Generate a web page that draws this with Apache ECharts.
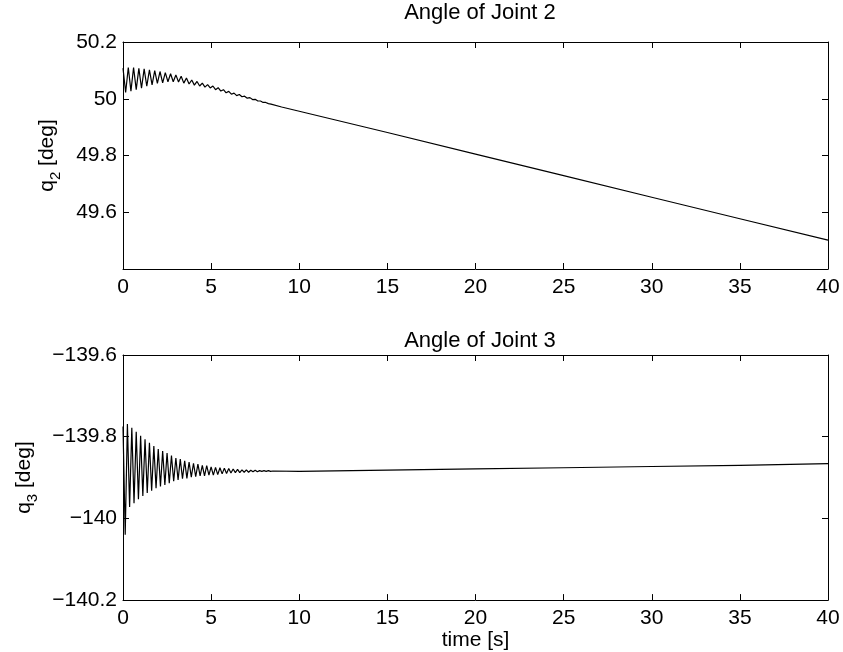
<!DOCTYPE html>
<html>
<head>
<meta charset="utf-8">
<script src="https://cdn.jsdelivr.net/npm/echarts@6/dist/echarts.min.js"></script>
<style>
html,body{margin:0;padding:0;background:#fff;}
#chart{width:843px;height:652px;}
</style>
</head>
<body>
<div id="chart"></div>
<script>
// ---- data ----
const titles = ['Angle of Joint 2', 'Angle of Joint 3'];
const xTicks = [0, 5, 10, 15, 20, 25, 30, 35, 40];
const yTicksJ2 = [49.4, 49.6, 49.8, 50, 50.2];
const yTicksJ3 = [-140.2, -140, -139.8, -139.6];

const timeJ2 = [0,0.15,0.3,0.45,0.6,0.75,0.9,1.05,1.2,1.35,1.5,1.65,1.8,1.95,2.1,2.25,2.4,2.55,2.7,2.85,
  3,3.15,3.3,3.45,3.6,3.75,3.9,4.05,4.2,4.35,4.5,4.65,4.8,4.95,5.1,5.25,5.4,5.55,5.7,5.85,
  6,6.15,6.3,6.45,6.6,6.75,6.9,7.05,7.2,7.35,7.5,7.65,7.8,7.95,8.1,8.25,8.4,
  9,10,15,20,25,30,35,40];
const q2 = [50.108,50.022,50.110,50.027,50.110,50.032,50.107,50.037,50.105,50.044,
  50.102,50.049,50.099,50.054,50.096,50.056,50.092,50.060,50.088,50.060,
  50.084,50.059,50.079,50.055,50.073,50.052,50.066,50.048,50.061,50.045,
  50.055,50.041,50.050,50.038,50.045,50.032,50.039,50.027,50.032,50.021,
  50.026,50.016,50.020,50.011,50.015,50.007,50.009,50.002,50.004,49.997,
  49.998,49.992,49.992,49.987,49.987,49.983,49.981,
  49.971,49.956,49.881,49.805,49.729,49.653,49.577,49.502];

const timeJ3 = [0,0.125,0.25,0.375,0.5,0.625,0.75,0.875,1,1.125,1.25,1.375,1.5,1.625,1.75,1.875,
  2,2.125,2.25,2.375,2.5,2.625,2.75,2.875,3,3.125,3.25,3.375,3.5,3.625,3.75,3.875,
  4,4.125,4.25,4.375,4.5,4.625,4.75,4.875,5,5.125,5.25,5.375,5.5,5.625,5.75,5.875,
  6,6.125,6.25,6.375,6.5,6.625,6.75,6.875,7,7.125,7.25,7.375,7.5,7.625,7.75,7.875,
  8,8.125,8.25,8.375,8.5,
  10,15,20,25,30,35,40];
const q3 = [-139.775,-140.04,-139.769,-139.972,-139.778,-139.963,-139.788,-139.953,-139.798,-139.945,
  -139.806,-139.938,-139.815,-139.932,-139.823,-139.926,-139.830,-139.922,-139.835,-139.918,
  -139.840,-139.914,-139.846,-139.909,-139.852,-139.906,-139.855,-139.903,-139.859,-139.902,
  -139.862,-139.899,-139.865,-139.898,-139.867,-139.896,-139.870,-139.896,-139.871,-139.894,
  -139.874,-139.894,-139.875,-139.893,-139.876,-139.891,-139.877,-139.890,-139.878,-139.889,
  -139.879,-139.888,-139.880,-139.888,-139.881,-139.887,-139.881,-139.887,-139.882,-139.886,
  -139.882,-139.886,-139.883,-139.885,-139.883,-139.885,-139.883,-139.885,-139.884,
  -139.885,-139.882,-139.879,-139.876,-139.873,-139.870,-139.866];

// ---- chart ----
const FONT = "'Liberation Sans', Arial, Helvetica, sans-serif";
const FS = 21;
const FT = 22;
const black = '#000';

function pairs(t, v) { return t.map((x, i) => [x, v[i]]); }

function fmtNum(v) {
  let s = String(Math.round(v * 1000) / 1000);
  return s.replace('-', '\u2212');
}

const lineStyle = { color: black, width: 1 };
const tick = { show: true, inside: true, length: 6, lineStyle: { color: black, width: 1 } };

function xAx(grid, pos, showLabel, name) {
  return {
    type: 'value', gridIndex: grid, position: pos,
    min: xTicks[0], max: xTicks[xTicks.length - 1], interval: xTicks[1] - xTicks[0],
    axisLine: { show: true, onZero: false, lineStyle },
    axisTick: tick,
    splitLine: { show: false },
    axisLabel: { show: showLabel, color: black, fontSize: FS, fontFamily: FONT, margin: 8 },
    name: name || '', nameLocation: 'middle', nameGap: 22,
    nameTextStyle: { color: black, fontSize: FS, fontFamily: FONT }
  };
}

function yAx(grid, pos, ticks, showLabel, name, gap) {
  const min = ticks[0], max = ticks[ticks.length - 1];
  return {
    type: 'value', gridIndex: grid, position: pos,
    min, max, interval: Math.round((ticks[1] - ticks[0]) * 1000) / 1000,
    axisLine: { show: true, onZero: false, lineStyle },
    axisTick: tick,
    splitLine: { show: false },
    axisLabel: {
      show: showLabel, color: black, fontSize: FS, fontFamily: FONT, margin: 6,
      formatter: v => (grid === 0 && Math.abs(v - min) < 1e-9) ? '' : fmtNum(v)
    },
    name: name || '', nameLocation: 'middle', nameGap: gap || 0, nameRotate: 90,
    nameTextStyle: {
      color: black, fontSize: FS, fontFamily: FONT, lineHeight: 32,
      rich: {
        m: { fontSize: FS, fontFamily: FONT, color: black, verticalAlign: 'middle', lineHeight: 32 },
        s: { fontSize: 15, fontFamily: FONT, color: black, verticalAlign: 'bottom', lineHeight: 32 }
      }
    }
  };
}

const chart = echarts.init(document.getElementById('chart'), null, { renderer: 'canvas' });
chart.setOption({
  animation: false,
  backgroundColor: '#fff',
  title: [
    { text: titles[0], left: 475, top: -3, textAlign: 'center',
      textStyle: { color: black, fontSize: FT, fontWeight: 'normal', fontFamily: FONT } },
    { text: titles[1], left: 475, top: 325, textAlign: 'center',
      textStyle: { color: black, fontSize: FT, fontWeight: 'normal', fontFamily: FONT } }
  ],
  grid: [
    { left: 123, right: 15, top: 42, bottom: 383 },
    { left: 123, right: 15, top: 355, bottom: 40 }
  ],
  xAxis: [
    xAx(0, 'bottom', true),
    xAx(0, 'top', false),
    xAx(1, 'bottom', true, 'time [s]'),
    xAx(1, 'top', false)
  ],
  yAxis: [
    yAx(0, 'left', yTicksJ2, true, '{m|q}{s|2}{m| [deg]}', 60),
    yAx(0, 'right', yTicksJ2, false),
    yAx(1, 'left', yTicksJ3, true, '{m|q}{s|3}{m| [deg]}', 83),
    yAx(1, 'right', yTicksJ3, false)
  ],
  series: [
    { type: 'line', xAxisIndex: 0, yAxisIndex: 0, data: pairs(timeJ2, q2),
      showSymbol: false, symbol: 'none', lineStyle: { color: black, width: 1.2 }, sampling: null },
    { type: 'line', xAxisIndex: 2, yAxisIndex: 2, data: pairs(timeJ3, q3),
      showSymbol: false, symbol: 'none', lineStyle: { color: black, width: 1.2 }, sampling: null }
  ]
});
</script>
</body>
</html>
